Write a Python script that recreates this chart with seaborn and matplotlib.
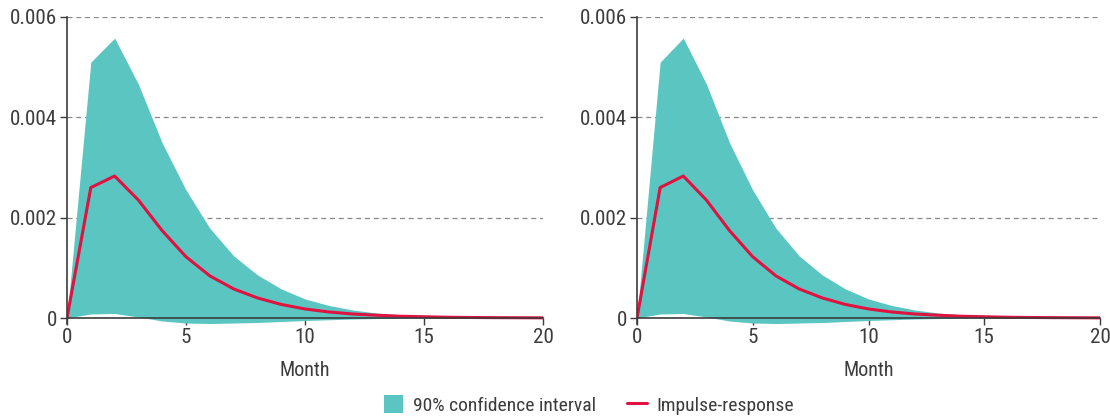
import matplotlib
matplotlib.use("Agg")
import matplotlib.pyplot as plt
import seaborn as sns
import numpy as np
import pandas as pd
from matplotlib import font_manager
from matplotlib.patches import Patch
from matplotlib.lines import Line2D

months = list(range(21))
upper = [0.0, 5.10e-3, 5.58e-3, 4.66e-3, 3.49e-3, 2.55e-3, 1.79e-3, 1.24e-3, 0.86e-3, 0.58e-3,
         0.38e-3, 0.25e-3, 0.16e-3, 0.10e-3, 0.065e-3, 0.04e-3, 0.025e-3, 0.015e-3, 0.01e-3, 0.006e-3, 0.004e-3]
lower = [0.0, 0.08e-3, 0.09e-3, 0.02e-3, -0.06e-3, -0.10e-3, -0.11e-3, -0.10e-3, -0.09e-3, -0.07e-3,
         -0.05e-3, -0.035e-3, -0.02e-3, -0.012e-3, -0.007e-3, -0.004e-3, -0.002e-3, -0.001e-3, 0.0, 0.0, 0.0]
irf = [0.0, 2.60e-3, 2.83e-3, 2.35e-3, 1.74e-3, 1.22e-3, 0.84e-3, 0.58e-3, 0.40e-3, 0.27e-3,
       0.18e-3, 0.12e-3, 0.08e-3, 0.055e-3, 0.035e-3, 0.025e-3, 0.015e-3, 0.01e-3, 0.007e-3, 0.005e-3, 0.003e-3]
yticks = [0, 0.002, 0.004, 0.006]
ytick_labels = ["0", "0.002", "0.004", "0.006"]
xticks = [0, 5, 10, 15, 20]

df = pd.DataFrame({"Month": months, "upper": upper, "lower": lower, "irf": irf})

sns.set_theme(style="white")
names = {f.name for f in font_manager.fontManager.ttflist}
fam = "Roboto"
for cand in ["Roboto Condensed", "Liberation Sans Narrow", "Arial Narrow", "Open Sans Condensed"]:
    if cand in names:
        fam = cand
        break
plt.rcParams["font.family"] = [fam, "DejaVu Sans"]
FS = 14 if fam != "Roboto" else 13.5
TFS = 15.2 if fam != "Roboto" else 13.5

TEAL = "#5BC5C1"
RED = "#E0123F"
DARK = "#3c3c3c"

fig = plt.figure(figsize=(11.1, 4.17), dpi=100)
W, H = 1110, 417
panels = [(67, 543), (637, 1100)]
top, bot = 17, 318
ymin = -0.00012
ymax = 0.006
ppu = (bot - top) / ymax
ybottom_px = bot + (0 - ymin) * ppu

for (x0, x1) in panels:
    ax = fig.add_axes([x0 / W, 1 - ybottom_px / H, (x1 - x0) / W, (ybottom_px - top) / H])
    ax.fill_between(df["Month"], df["lower"], df["upper"], color=TEAL, linewidth=0, zorder=2)
    sns.lineplot(data=df, x="Month", y="irf", ax=ax, color=RED, linewidth=2.2, zorder=3)
    ax.set_xlim(0, 20)
    ax.set_ylim(ymin, ymax)
    ax.spines["bottom"].set_position(("data", 0))
    for s in ["top", "right"]:
        ax.spines[s].set_visible(False)
    for s in ["left", "bottom"]:
        ax.spines[s].set_color(DARK)
        ax.spines[s].set_linewidth(1.2)
        ax.spines[s].set_zorder(4)
    ax.set_yticks(yticks)
    ax.set_yticklabels(ytick_labels)
    ax.set_xticks(xticks)
    ax.tick_params(axis="both", direction="out", length=5, width=1, color=DARK,
                   labelsize=TFS, labelcolor=DARK, pad=2, left=True, bottom=True)
    for yv in yticks[1:]:
        ax.axhline(yv, color="#888888", linestyle=(0, (4, 3)), linewidth=0.9, zorder=1)
    ax.set_ylabel("")
    ax.set_xlabel("Month", fontsize=FS + 0.5, color=DARK, labelpad=10)

handles = [Patch(facecolor=TEAL, edgecolor="none", label="90% confidence interval"),
           Line2D([0], [0], color=RED, linewidth=2.2, label="Impulse-response")]
fig.legend(handles=handles, loc="center", bbox_to_anchor=(589 / W, 1 - 405 / H), ncol=2,
           frameon=False, fontsize=FS, handlelength=1.0, handleheight=1.0,
           columnspacing=1.6, handletextpad=0.5, labelcolor=DARK)

fig.savefig("out.png", dpi=100)
